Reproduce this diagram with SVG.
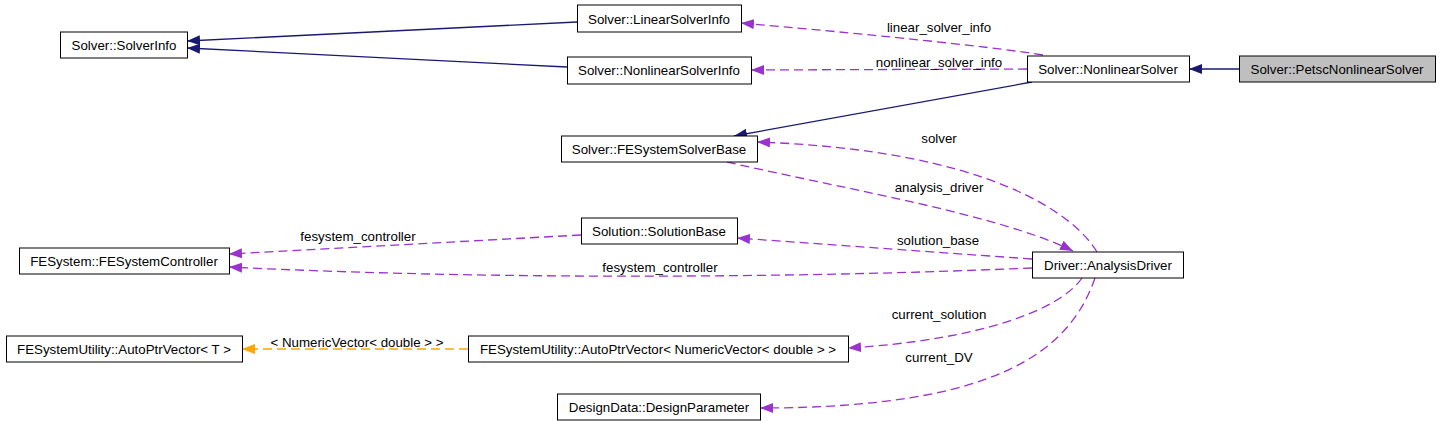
<svg xmlns="http://www.w3.org/2000/svg" width="1440" height="421" viewBox="0 0 1440 421">
<style>
.node rect{fill:#ffffff;stroke:#000000;stroke-width:1}
.node.cur rect{fill:#bfbfbf}
.node text{font-family:"Liberation Sans",Arial,sans-serif;font-size:13.3px;fill:#000000;text-anchor:middle}
.lbl{font-family:"Liberation Sans",Arial,sans-serif;font-size:13.3px;fill:#000000;text-anchor:middle}
.inh{fill:none;stroke:#191970;stroke-width:1.3}
.use{fill:none;stroke:#9a32cd;stroke-width:1.3;stroke-dasharray:9,5}
.tpl{fill:none;stroke:#ffa500;stroke-width:1.3;stroke-dasharray:9,5}
</style>
<defs>
<marker id="aN" markerUnits="userSpaceOnUse" markerWidth="14" markerHeight="11" refX="13" refY="5" orient="auto"><path d="M0,0 L13,5 L0,10 Z" fill="#191970"/></marker>
<marker id="aP" markerUnits="userSpaceOnUse" markerWidth="14" markerHeight="11" refX="13" refY="5" orient="auto"><path d="M0,0 L13,5 L0,10 Z" fill="#9a32cd"/></marker>
<marker id="aO" markerUnits="userSpaceOnUse" markerWidth="14" markerHeight="11" refX="13" refY="5" orient="auto"><path d="M0,0 L13,5 L0,10 Z" fill="#ffa500"/></marker>
</defs>
<rect width="1440" height="421" fill="#ffffff"/>
<g id="connectors">
<path class="inh" d="M577,22 L187,41" marker-end="url(#aN)"/>
<path class="inh" d="M567,67 L187,48" marker-end="url(#aN)"/>
<path class="inh" d="M1239,69 L1189,69" marker-end="url(#aN)"/>
<path class="inh" d="M1032,82 L734,136" marker-end="url(#aN)"/>
<path class="use" d="M1043,55 C1000,48 900,37 741,23" marker-end="url(#aP)"/>
<text class="lbl" x="939" y="32">linear_solver_info</text>
<path class="use" d="M1027,69 L751,70" marker-end="url(#aP)"/>
<text class="lbl" x="939" y="67">nonlinear_solver_info</text>
<path class="use" d="M1097,252 C1075,215 990,150 757,142" marker-end="url(#aP)"/>
<text class="lbl" x="939" y="143">solver</text>
<path class="use" d="M727,162 C850,190 1000,215 1073,251" marker-end="url(#aP)"/>
<text class="lbl" x="939" y="192">analysis_driver</text>
<path class="use" d="M1032,259 L737,238" marker-end="url(#aP)"/>
<text class="lbl" x="938" y="245">solution_base</text>
<path class="use" d="M1032,268 C750,280 450,278 229,267" marker-end="url(#aP)"/>
<text class="lbl" x="660" y="272">fesystem_controller</text>
<path class="use" d="M581,235 L229,254" marker-end="url(#aP)"/>
<text class="lbl" x="358" y="241">fesystem_controller</text>
<path class="use" d="M1082,278 C1060,310 980,340 848,348" marker-end="url(#aP)"/>
<text class="lbl" x="939" y="319">current_solution</text>
<path class="use" d="M1095,278 C1070,350 1000,408 760,408" marker-end="url(#aP)"/>
<text class="lbl" x="939" y="362">current_DV</text>
<path class="tpl" d="M468,349 L242,349" marker-end="url(#aO)"/>
<text class="lbl" x="357" y="347">&lt; NumericVector&lt; double &gt; &gt;</text>
</g>
<g id="n_solverinfo" class="node"><rect x="60.5" y="32" width="127" height="26"/><text x="124" y="50">Solver::SolverInfo</text></g>
<g id="n_linearsolverinfo" class="node"><rect x="577.5" y="5" width="164" height="27"/><text x="659" y="23.5">Solver::LinearSolverInfo</text></g>
<g id="n_nonlinearsolverinfo" class="node"><rect x="567.5" y="57" width="184" height="27"/><text x="659" y="75">Solver::NonlinearSolverInfo</text></g>
<g id="n_nonlinearsolver" class="node"><rect x="1027.5" y="56" width="162" height="26"/><text x="1108" y="73.5">Solver::NonlinearSolver</text></g>
<g id="n_petsc" class="node cur"><rect x="1239.5" y="56" width="196" height="26"/><text x="1337" y="73.5">Solver::PetscNonlinearSolver</text></g>
<g id="n_fesystemsolverbase" class="node"><rect x="561.5" y="136" width="196" height="26"/><text x="659" y="153.5">Solver::FESystemSolverBase</text></g>
<g id="n_solutionbase" class="node"><rect x="581.5" y="218" width="156" height="26"/><text x="659" y="235.5">Solution::SolutionBase</text></g>
<g id="n_fesystemcontroller" class="node"><rect x="19.5" y="248" width="210" height="26"/><text x="124" y="265.5">FESystem::FESystemController</text></g>
<g id="n_analysisdriver" class="node"><rect x="1032.5" y="252" width="151" height="26"/><text x="1108" y="269.5">Driver::AnalysisDriver</text></g>
<g id="n_autoptrT" class="node"><rect x="6.5" y="336" width="236" height="26"/><text x="124" y="353.5">FESystemUtility::AutoPtrVector&lt; T &gt;</text></g>
<g id="n_autoptrNV" class="node"><rect x="468.5" y="336" width="380" height="26"/><text x="658" y="353.5">FESystemUtility::AutoPtrVector&lt; NumericVector&lt; double &gt; &gt;</text></g>
<g id="n_designparameter" class="node"><rect x="557.5" y="394" width="203" height="26"/><text x="659" y="411.5">DesignData::DesignParameter</text></g>
</svg>
